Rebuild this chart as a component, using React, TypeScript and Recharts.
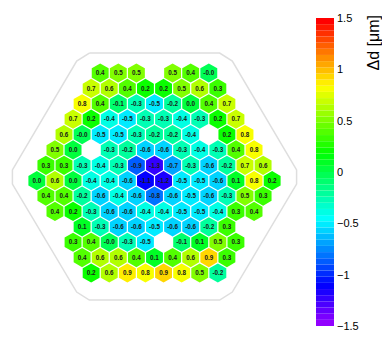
import React from 'react';
import { ScatterChart, Scatter, XAxis, YAxis, ReferenceArea } from 'recharts';

// detector cells, one array per row from top to bottom; null = no reading
const row01 = [0.4, 0.5, 0.5, null, 0.5, 0.4, -0.03];
const row02 = [0.7, 0.6, 0.4, 0.2, 0.2, 0.5, 0.6, 0.3];
const row03 = [0.8, 0.4, -0.1, -0.3, -0.5, -0.2, 0.0, 0.4, 0.7];
const row04 = [0.7, 0.2, -0.4, -0.5, -0.3, -0.3, -0.4, -0.3, 0.2, 0.7];
const row05 = [0.6, -0.03, -0.5, -0.5, -0.3, -0.2, -0.2, -0.4, null, 0.2, 0.8];
const row06 = [0.5, 0.0, null, -0.3, -0.2, -0.6, -0.6, -0.3, -0.4, -0.3, 0.4, 0.8];
const row07 = [0.3, 0.3, -0.3, -0.4, -0.3, -0.9, -1.25, -0.7, -0.3, -0.6, -0.2, 0.7, 0.6];
const row08 = [0.0, 0.6, 0.0, -0.4, -0.4, -0.6, -1.1, -1.2, -0.5, -0.5, -0.6, 0.1, 0.8, 0.2];
const row09 = [0.4, 0.4, -0.2, -0.6, -0.4, -0.6, -0.8, -0.6, -0.5, -0.6, -0.3, 0.5, 0.3];
const row10 = [0.4, 0.2, -0.3, -0.6, -0.6, -0.4, -0.4, -0.5, -0.5, -0.4, 0.3, 0.4];
const row11 = [null, 0.1, -0.3, -0.6, -0.6, -0.5, -0.6, -0.6, -0.2, 0.3, null];
const row12 = [0.3, 0.4, -0.03, -0.3, -0.5, null, -0.1, 0.1, 0.5, 0.3];
const row13 = [0.4, 0.6, 0.6, 0.4, 0.1, 0.4, 0.6, 0.93, 0.3];
const row14 = [0.2, 0.6, 0.87, 0.8, 0.93, 0.8, 0.5, -0.2];
const rows = [row01, row02, row03, row04, row05, row06, row07, row08, row09, row10, row11, row12, row13, row14];

// outline of the module (in cell-pitch units)
const frameX = [-3.6, 3.6, 4.3, 7.85, 7.85, 4.3, 3.6, -3.6, -4.3, -7.85, -7.85, -4.3, -3.6];
const frameY = [7.8, 7.8, 7.28, 0.2, -0.72, -7.74, -8.26, -8.26, -7.74, -0.72, 0.2, 7.28, 7.8];

const zTicks = [-1.5, -1, -0.5, 0, 0.5, 1, 1.5];
const Z_MIN = -1.5;
const Z_MAX = 1.5;
const N_COLORS = 50;

// "pretty" violet -> red palette, 50 levels
const colorIndex = (v: number) =>
  Math.max(0, Math.min(N_COLORS - 1, Math.floor(((v - Z_MIN) / (Z_MAX - Z_MIN)) * N_COLORS + 0.01)));
const paletteColor = (v: number) => {
  const i = colorIndex(v);
  const hue = i === N_COLORS - 1 ? 0 : 280 - (i + 1) * (280 / N_COLORS);
  return `hsl(${hue.toFixed(1)}, 100%, 50%)`;
};

const cells = rows.flatMap((vals, r) =>
  vals
    .map((v, i) => (v === null ? null : { x: i - (vals.length - 1) / 2, y: (rows.length - 1) / 2 - r, v }))
    .filter((c): c is { x: number; y: number; v: number } => c !== null)
);

const frame = frameX.map((x, i) => ({ x, y: frameY[i] }));

const step = (Z_MAX - Z_MIN) / N_COLORS;
const bands = Array.from({ length: N_COLORS }, (_, k) => {
  const lo = Z_MIN + k * step;
  return { lo, hi: lo + step, color: paletteColor(lo + step / 2) };
});

const HEX_RX = 8.45;
const HEX_RY = 9.57;
const FONT = '"Liberation Sans", Arial, Helvetica, sans-serif';

const HexCell = (props: any) => {
  const { cx, cy, payload } = props;
  const pts = [
    [0, -HEX_RY], [HEX_RX, -HEX_RY / 2], [HEX_RX, HEX_RY / 2],
    [0, HEX_RY], [-HEX_RX, HEX_RY / 2], [-HEX_RX, -HEX_RY / 2],
  ].map(([dx, dy]) => `${cx + dx},${cy + dy}`).join(' ');
  return (
    <g>
      <polygon points={pts} fill={paletteColor(payload.v)} />
      <text x={cx} y={cy + 2.2} textAnchor="middle" fontSize={6.3} fontWeight="bold" fill="#1a1a1a" fontFamily={FONT}>
        {payload.v.toFixed(1)}
      </text>
    </g>
  );
};

const NoDot = () => <g />;

const ZTitle = () => (
  <text transform="translate(79, 15) rotate(-90)" textAnchor="end" fontSize={16} fill="#000" fontFamily={FONT}>
    Δd [μm]
  </text>
);

const App: React.FC = () => {
  return (
    <div style={{ position: 'absolute', left: 0, top: 0, width: 382, height: 346, background: '#fff' }}>
      <div style={{ position: 'absolute', left: 0, top: 0 }}>
        <ScatterChart width={309} height={346} margin={{ top: 0, right: 0, bottom: 0, left: 0 }}>
          <XAxis type="number" dataKey="x" domain={[-8.536, 8.536]} hide allowDataOverflow />
          <YAxis type="number" dataKey="y" domain={[-11.25, 11.25]} hide allowDataOverflow />
          <Scatter
            data={frame}
            line={{ stroke: '#dedede', strokeWidth: 1.5 }}
            lineJointType="linear"
            shape={NoDot}
            isAnimationActive={false}
          />
          <Scatter data={cells} shape={HexCell} isAnimationActive={false} />
        </ScatterChart>
      </div>
      <div style={{ position: 'absolute', left: 300, top: 0 }}>
        <ScatterChart width={82} height={346} margin={{ top: 18, right: 0, bottom: 20, left: 16 }}>
          <XAxis type="number" dataKey="x" domain={[0, 1]} hide />
          <YAxis
            type="number"
            dataKey="y"
            orientation="right"
            width={48}
            domain={[Z_MIN, Z_MAX]}
            ticks={zTicks}
            interval={0}
            axisLine={false}
            tickLine={false}
            tickSize={2}
            tickMargin={1}
            tick={{ fontSize: 11, fill: '#000', fontFamily: FONT }}
            tickFormatter={(v: number) => String(v).replace('-', '\u2212')}
            label={{ content: ZTitle }}
          />
          {bands.map((b) => (
            <ReferenceArea
              key={b.lo}
              x1={0}
              x2={1}
              y1={b.lo}
              y2={b.hi}
              fill={b.color}
              fillOpacity={1}
              stroke="none"
              ifOverflow="visible"
            />
          ))}
          <Scatter data={[{ x: 0.5, y: 0 }]} shape={NoDot} isAnimationActive={false} />
        </ScatterChart>
      </div>
    </div>
  );
};

export default App;
